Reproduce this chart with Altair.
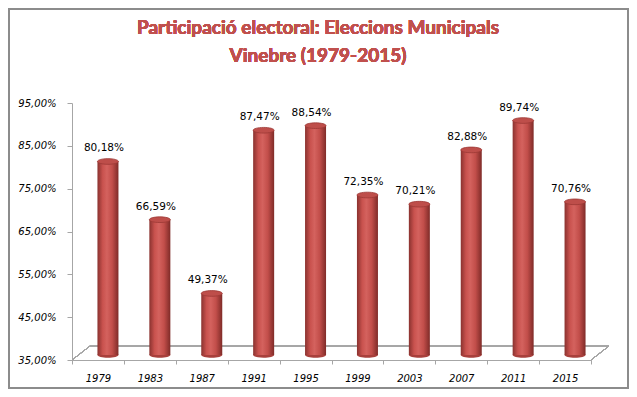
import altair as alt
import pandas as pd

YEARS = ["1979", "1983", "1987", "1991", "1995", "1999", "2003", "2007", "2011", "2015"]
TURNOUT = [80.18, 66.59, 49.37, 87.47, 88.54, 72.35, 70.21, 82.88, 89.74, 70.76]
Y_TICKS = [35, 45, 55, 65, 75, 85, 95]
TITLE_LINES = ["Participació electoral: Eleccions Municipals", "Vinebre (1979-2015)"]

W, H = 519, 257
PAD = {"left": 64, "top": 95, "right": 38, "bottom": 29}

df = pd.DataFrame({"year": YEARS, "v": TURNOUT})
base_val = 35

xenc = alt.X("year:N", sort=YEARS, title=None,
             scale=alt.Scale(paddingInner=0, paddingOuter=0),
             axis=alt.Axis(labelAngle=0, tickBand="extent", labelFont="DejaVu Sans",
                           labelFontSize=10, labelFontStyle="italic", labelColor="black",
                           domainColor="#A6A6A6", tickColor="#A6A6A6", tickSize=4,
                           labelPadding=9, grid=False))
yscale = alt.Scale(domain=[35, 95], nice=False, zero=False)
yenc = alt.Y("v:Q", scale=yscale, title=None,
             axis=alt.Axis(values=Y_TICKS, grid=False, labelFont="DejaVu Sans",
                           labelFontSize=10, labelFontStyle="italic", labelColor="black",
                           labelExpr="replace(format(datum.value, '.2f'), '.', ',') + '%'",
                           domainColor="#A6A6A6", tickColor="#A6A6A6", tickSize=5,
                           labelPadding=11))

grad = alt.Gradient(gradient="linear", x1=0, x2=1, y1=0, y2=0, stops=[
    alt.GradientStop(color="#8A322F", offset=0),
    alt.GradientStop(color="#C9524E", offset=0.25),
    alt.GradientStop(color="#D4625E", offset=0.45),
    alt.GradientStop(color="#C24E4A", offset=0.7),
    alt.GradientStop(color="#7F2B28", offset=1),
])

ELLIPSE = "M -1 0 A 1 0.27 0 1 0 1 0 A 1 0.27 0 1 0 -1 0 Z"
BW = 21

base = alt.Chart(df)

# floor decoration
floor_back = base.mark_rule(color="#A6A6A6", strokeWidth=1).encode(
    x=alt.value(18), x2=alt.value(W + 18), y=alt.value(H - 14))
floor_right = base.mark_rule(color="#A6A6A6", strokeWidth=1).encode(
    x=alt.value(W), x2=alt.value(W + 18), y=alt.value(H), y2=alt.value(H - 14))
floor_left = base.mark_rule(color="#A6A6A6", strokeWidth=1).encode(
    x=alt.value(0), x2=alt.value(18), y=alt.value(H), y2=alt.value(H - 14))

bottom_cap = base.mark_point(shape=ELLIPSE, size=BW * BW, filled=True, opacity=1,
                             color="#A8403C", xOffset=10, yOffset=-5).encode(
    x=xenc, y=alt.datum(base_val, scale=yscale))

bars = base.mark_bar(width=BW, color=grad, xOffset=10, yOffset=-5, y2Offset=-5).encode(
    x=xenc, y=yenc, y2=alt.datum(base_val))

top_cap = base.mark_point(shape=ELLIPSE, size=BW * BW, filled=True, opacity=1,
                          color="#BE4E4A", stroke="#9C3835", strokeWidth=0.8,
                          xOffset=10, yOffset=-5).encode(x=xenc, y=yenc)

labels = base.transform_calculate(
    lab="replace(format(datum.v, '.2f'), '.', ',') + '%'"
).mark_text(font="DejaVu Sans", fontSize=10.5, color="black", baseline="middle",
            dx=6, dy=-18).encode(x=xenc, y=yenc, text="lab:N")

title1 = base.mark_text(font="Lato", fontSize=19, fontWeight="bold", color="#C0504D",
                        baseline="middle", align="center").encode(
    x=alt.value(246), y=alt.value(-75), text=alt.value(TITLE_LINES[0]))
title2 = base.mark_text(font="Lato", fontSize=19, fontWeight="bold", color="#C0504D",
                        baseline="middle", align="center").encode(
    x=alt.value(246), y=alt.value(-47), text=alt.value(TITLE_LINES[1]))

border = base.mark_rect(fill=None, stroke="#8C8C8C", strokeWidth=2).encode(
    x=alt.value(-PAD["left"] + 1), x2=alt.value(W + PAD["right"] - 1),
    y=alt.value(-PAD["top"] + 1), y2=alt.value(H + PAD["bottom"] - 1))

chart = alt.layer(border, floor_back, floor_left, floor_right, bottom_cap, bars, top_cap,
                  labels, title1, title2).properties(
    width=W, height=H, padding=PAD,
    autosize=alt.AutoSizeParams(type="none"),
    background="white",
).configure_view(stroke=None)

chart.save("out.html", embed_options={"renderer": "svg", "actions": False})
